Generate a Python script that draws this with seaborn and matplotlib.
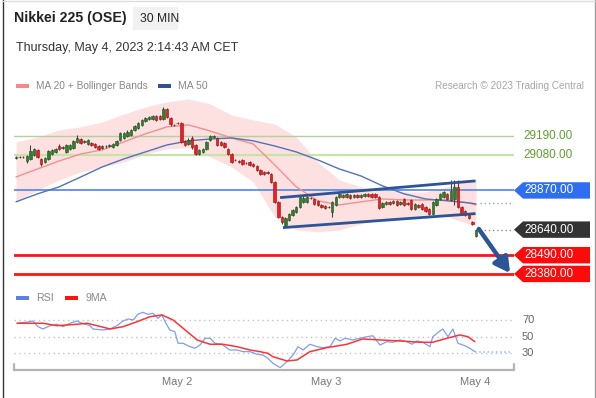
import numpy as np
import pandas as pd
import matplotlib
matplotlib.use("Agg")
import matplotlib.pyplot as plt
import seaborn as sns
from matplotlib.patches import Polygon, Rectangle
from matplotlib.lines import Line2D

# ---------------- data ----------------
opens = [29061, 29065, 29067, 29043, 29055, 29078, 29108, 29055, 29037, 29055,
         29084, 29096, 29131, 29120, 29096, 29114, 29120, 29155, 29172, 29155,
         29143, 29149, 29143, 29131, 29120, 29131, 29131, 29125, 29137, 29167,
         29178, 29190, 29196, 29225, 29237, 29255, 29278, 29290, 29290, 29307,
         29307, 29290, 29348, 29296, 29255, 29266, 29266, 29161, 29143, 29178,
         29137, 29084, 29096, 29114, 29167, 29184, 29178, 29155, 29149, 29114,
         29084, 29049, 29043, 29049, 29032, 29037, 29026, 29014, 28990, 28979,
         28979, 28967, 28920, 28803, 28715, 28668, 28697, 28726, 28744, 28773,
         28803, 28803, 28826, 28820, 28809, 28785, 28779, 28773, 28744, 28785,
         28832, 28844, 28832, 28844, 28832, 28844, 28832, 28838, 28850, 28850,
         28850, 28832, 28773, 28791, 28803, 28797, 28809, 28791, 28820, 28797,
         28814, 28762, 28785, 28791, 28773, 28762, 28732, 28785, 28820, 28832,
         28850, 28814, 28820, 28891, 28773, 28750, 28726, 28685, 28603]
closes = [29067, 29067, 29064, 29073, 29102, 29114, 29067, 29026, 29061, 29102,
          29108, 29114, 29114, 29125, 29137, 29137, 29161, 29178, 29149, 29161,
          29167, 29137, 29125, 29114, 29131, 29128, 29137, 29143, 29161, 29208,
          29208, 29213, 29225, 29249, 29266, 29284, 29296, 29302, 29307, 29284,
          29290, 29348, 29302, 29260, 29253, 29264, 29155, 29137, 29167, 29125,
          29084, 29108, 29114, 29155, 29190, 29190, 29137, 29137, 29125, 29084,
          29037, 29047, 29037, 29026, 29030, 29020, 29014, 28990, 28967, 28967,
          28973, 28920, 28803, 28715, 28685, 28709, 28732, 28756, 28773, 28832,
          28826, 28832, 28824, 28791, 28785, 28773, 28767, 28771, 28803, 28832,
          28850, 28832, 28850, 28826, 28844, 28832, 28844, 28850, 28838, 28832,
          28832, 28767, 28797, 28803, 28791, 28809, 28785, 28803, 28785, 28791,
          28762, 28791, 28773, 28762, 28750, 28732, 28803, 28820, 28850, 28861,
          28820, 28867, 28891, 28773, 28732, 28726, 28709, 28674, 28640]
highs = [29075, 29073, 29072, 29080, 29137, 29120, 29115, 29061, 29067, 29108,
         29114, 29120, 29140, 29131, 29143, 29145, 29167, 29196, 29180, 29167,
         29172, 29155, 29149, 29137, 29137, 29137, 29143, 29149, 29167, 29213,
         29215, 29225, 29232, 29255, 29272, 29290, 29302, 29307, 29313, 29313,
         29313, 29360, 29354, 29302, 29260, 29270, 29272, 29167, 29178, 29190,
         29143, 29114, 29120, 29161, 29196, 29196, 29184, 29161, 29155, 29120,
         29090, 29055, 29049, 29055, 29037, 29043, 29032, 29020, 28996, 28984,
         28984, 28973, 28926, 28809, 28720, 28715, 28738, 28762, 28779, 28838,
         28838, 28840, 28832, 28826, 28815, 28791, 28785, 28779, 28809, 28838,
         28856, 28850, 28856, 28850, 28850, 28850, 28850, 28856, 28856, 28856,
         28856, 28838, 28803, 28809, 28809, 28814, 28814, 28809, 28826, 28803,
         28820, 28797, 28791, 28797, 28779, 28767, 28809, 28826, 28856, 28867,
         28856, 28932, 28932, 28932, 28779, 28756, 28732, 28691, 28646]
lows = [29055, 29060, 29058, 29032, 29049, 29072, 29060, 29014, 29030, 29049,
        29078, 29090, 29108, 29114, 29090, 29108, 29114, 29149, 29143, 29149,
        29137, 29131, 29120, 29105, 29114, 29122, 29125, 29120, 29131, 29161,
        29172, 29184, 29190, 29219, 29231, 29249, 29272, 29284, 29284, 29278,
        29284, 29284, 29296, 29249, 29249, 29260, 29149, 29131, 29137, 29114,
        29078, 29078, 29090, 29108, 29161, 29178, 29131, 29131, 29120, 29078,
        29032, 29043, 29032, 29020, 29026, 29014, 29008, 28984, 28961, 28961,
        28967, 28914, 28797, 28709, 28674, 28656, 28691, 28720, 28738, 28767,
        28797, 28797, 28820, 28785, 28779, 28767, 28762, 28765, 28715, 28779,
        28826, 28826, 28826, 28820, 28826, 28826, 28826, 28832, 28832, 28826,
        28826, 28762, 28767, 28785, 28785, 28791, 28779, 28785, 28779, 28785,
        28756, 28756, 28767, 28756, 28744, 28726, 28726, 28779, 28814, 28826,
        28814, 28809, 28785, 28767, 28726, 28720, 28703, 28668, 28597]

# moving averages / Bollinger bands (sampled every 6 bars)
band_idx = [0, 6, 12, 18, 24, 30, 36, 42, 48, 54, 60, 66, 72, 78, 84, 90,
            96, 102, 108, 114, 120, 126, 128]
ma20 = [28949, 28996, 29043, 29084, 29108, 29155, 29202, 29243, 29255, 29219,
        29178, 29143, 29020, 28891, 28809, 28785, 28803, 28820, 28814, 28814,
        28814, 28797, 28785]
ma50 = [28803, 28850, 28891, 28949, 29008, 29055, 29096, 29137, 29161, 29172,
        29178, 29161, 29131, 29096, 29049, 28996, 28955, 28897, 28850, 28820,
        28809, 28797, 28791]
bb_upper = [29155, 29184, 29225, 29243, 29272, 29319, 29360, 29390, 29407, 29378,
            29313, 29284, 29260, 29184, 29037, 28932, 28891, 28873, 28861, 28861,
            28891, 28932, 28932]
bb_lower = [28803, 28873, 28932, 28979, 29008, 29037, 29084, 29114, 29120, 29067,
            29008, 28920, 28715, 28638, 28627, 28638, 28674, 28697, 28715, 28726,
            28715, 28674, 28662]

resistance_levels = [29190, 29080]
pivot_level = 28870
last_price = 28640
support_levels = [28490, 28380]

channel_upper_x = [73.5, 127.9]
channel_upper_y = [28828, 28926]
channel_lower_x = [74.3, 127.9]
channel_lower_y = [28652, 28734]
arrow_start = (128.8, 28644)
arrow_end = (137.5, 28385)

day_ticks = [44.8, 86.3, 127.7]
day_labels = ["May 2", "May 3", "May 4"]

rsi_idx = [0.3, 3.9, 4.7, 6.1, 7.5, 9.5, 11.4, 13.1, 15.0, 17.0, 18.4, 20.6, 21.4,
           24.2, 26.2, 28.1, 29.8, 31.2, 32.6, 33.9, 35.3, 36.7, 38.1, 39.5, 40.6,
           41.5, 42.8, 44.2, 45.1, 46.5, 48.4, 49.8, 51.2, 52.6, 54.0, 55.4, 57.3,
           59.5, 61.5, 63.2, 65.1, 67.1, 68.7, 70.1, 71.5, 73.5, 75.4, 77.1, 78.5,
           79.9, 81.8, 83.8, 85.4, 87.4, 88.8, 90.2, 91.5, 93.8, 95.7, 97.7, 99.3,
           101.3, 103.2, 104.9, 106.8, 108.8, 110.2, 111.6, 113.2, 115.2, 116.0,
           118.0, 118.8, 120.2, 121.6, 123.0, 124.9, 126.3, 127.7]
rsi_vals = [66.4, 68.3, 69.2, 62.3, 59.5, 63.5, 65.2, 62.3, 66.4, 69.2, 66.4, 63.5,
            59.5, 58.3, 59.5, 63.5, 69.2, 71.6, 70.4, 77.2, 79.6, 77.2, 78.4, 72.4,
            76.4, 68.3, 58.3, 56.3, 42.3, 42.3, 38.2, 36.3, 40.2, 48.3, 48.3, 42.3,
            41.1, 34.2, 34.2, 32.2, 32.2, 29.0, 28.2, 24.2, 18.2, 12.9, 20.1, 28.2,
            38.2, 34.2, 41.1, 38.2, 37.0, 38.2, 48.3, 45.1, 48.3, 46.3, 48.3, 50.2,
            51.4, 40.2, 44.2, 43.5, 46.3, 44.2, 41.1, 45.1, 43.5, 38.2, 50.2, 57.1,
            59.5, 50.2, 59.5, 42.3, 39.4, 36.3, 32.2]
ma9_idx = [0.3, 7.5, 11.4, 17.0, 19.8, 22.5, 26.2, 29.8, 33.7, 37.3, 40.6, 43.7,
           46.5, 50.4, 54.0, 57.6, 61.5, 65.1, 67.9, 70.1, 71.5, 75.4, 78.2, 81.8,
           86.5, 92.1, 96.5, 101.3, 106.8, 112.4, 116.0, 119.9, 123.5, 125.8, 127.7]
ma9_vals = [66.4, 66.4, 63.5, 65.2, 66.4, 63.5, 59.5, 62.3, 68.3, 74.3, 76.4, 70.4,
            60.4, 46.3, 41.1, 41.1, 38.2, 34.2, 32.2, 30.2, 26.1, 21.0, 22.2, 32.2,
            37.0, 41.1, 47.5, 46.3, 45.1, 43.5, 43.5, 48.3, 52.3, 50.2, 44.2]
rsi_guides = [70, 50, 30]

# ---------------- style ----------------
sns.set_theme(style="white")
plt.rcParams["font.family"] = ["Liberation Sans", "DejaVu Sans"]

W, H = 596, 398
fig = plt.figure(figsize=(W / 100, H / 100), dpi=100)
fig.patch.set_facecolor("white")


def fx(x):
    return x / W


def fy(y):
    return 1 - y / H


XLIM = (-0.56, 138.6)

# ---------------- main price panel ----------------
ax = fig.add_axes([fx(14), fy(292), 500 / W, 198 / H])
ax.set_xlim(*XLIM)
ax.set_ylim(28274, 29436)
ax.axis("off")

ax.fill_between(band_idx, bb_lower, bb_upper, color="#fde1e1", lw=0, zorder=1)

ax.axhline(resistance_levels[0], color="#b7cfa0", lw=1.0, zorder=2)
ax.axhline(resistance_levels[1], color="#c6e4a6", lw=1.6, zorder=2)
ax.axhline(pivot_level, color="#5a8cf0", lw=1.3, zorder=2)
for lv in support_levels:
    ax.axhline(lv, color="#ff1414", lw=2.0, zorder=2)

sns.lineplot(x=band_idx, y=ma20, ax=ax, color="#f29090", lw=1.0, zorder=3)
sns.lineplot(x=band_idx, y=ma50, ax=ax, color="#5273b5", lw=1.0, zorder=3)

n = len(closes)
idx = np.arange(n)
o = np.array(opens, float)
c = np.array(closes, float)
hi = np.array(highs, float)
lo = np.array(lows, float)
up = c >= o
ax.vlines(idx, lo, hi, color="#444444", lw=0.8, zorder=4)
body_bottom = np.minimum(o, c)
body_h = np.maximum(np.abs(c - o), 3)
ax.bar(idx[up], body_h[up], bottom=body_bottom[up], width=0.68,
       color="#2f7d2f", edgecolor="#1f4f1f", lw=0.4, zorder=5)
ax.bar(idx[~up], body_h[~up], bottom=body_bottom[~up], width=0.68,
       color="#ee1c1c", edgecolor="#9a1010", lw=0.4, zorder=5)

ax.plot(channel_upper_x, channel_upper_y, color="#2c5597", lw=2.0, zorder=6,
        solid_capstyle="butt")
ax.plot(channel_lower_x, channel_lower_y, color="#2c5597", lw=2.0, zorder=6,
        solid_capstyle="butt")

# dotted extensions to the price scale
ax.hlines(last_price, n, XLIM[1], color="#888888", lw=1.0, ls=(0, (1, 2)), zorder=3)
ax.hlines(ma50[-1] + 6, n, XLIM[1], color="#9aa6bb", lw=1.0, ls=(0, (1, 2)), zorder=3)

ax.annotate("", xy=arrow_end, xytext=arrow_start,
            arrowprops=dict(arrowstyle="-|>,head_width=0.5,head_length=0.9",
                            color="#2c5597", lw=3.2, shrinkA=0, shrinkB=0,
                            mutation_scale=10),
            annotation_clip=False, zorder=7)

yr = ax.get_ylim()
px_per_unit = 198 / (yr[1] - yr[0])
hh = 8.2 / px_per_unit
trans = ax.get_yaxis_transform()


def tag(price, color, text):
    x0 = 1.0
    x1 = 1.0 + 9 / 500
    x2 = 1.0 + 76 / 500
    poly = Polygon([(x0, price), (x1, price + hh), (x2, price + hh),
                    (x2, price - hh), (x1, price - hh)], closed=True,
                   transform=trans, facecolor=color, edgecolor="none",
                   clip_on=False, zorder=8)
    ax.add_patch(poly)
    ax.text(1.0 + 10 / 500, price, text, transform=trans, color="white",
            fontsize=8.5, va="center", ha="left", clip_on=False, zorder=9)


for lv in resistance_levels:
    ax.text(1.0 + 9 / 500, lv, f"{lv:.2f}", transform=trans, color="#5fa030",
            fontsize=8.5, va="center", ha="left", clip_on=False)
tag(pivot_level, "#2e6ff2", f"{pivot_level:.2f}")
tag(last_price, "#333333", f"{last_price:.2f}")
for lv in support_levels:
    tag(lv, "#ff0a0a", f"{lv:.2f}")

# ---------------- RSI panel ----------------
ax2 = fig.add_axes([fx(14), fy(370), 500 / W, 65 / H])
ax2.set_xlim(*XLIM)
ax2.set_ylim(10.1, 88.4)
for s in ["left", "right", "top"]:
    ax2.spines[s].set_visible(False)
ax2.spines["bottom"].set_color("#b3b3b3")
ax2.spines["bottom"].set_linewidth(1.6)
ax2.set_yticks([])
for v in rsi_guides:
    ax2.axhline(v, color="#c2c2c2", lw=1.0, ls=(0, (1, 2.5)), zorder=1)
    ax2.text(1.0 + 8 / 500, v, str(v), transform=ax2.get_yaxis_transform(),
             color="#666666", fontsize=8, va="center", ha="left", clip_on=False)

sns.lineplot(x=rsi_idx, y=rsi_vals, ax=ax2, color="#7f9ef0", lw=0.9, zorder=3)
sns.lineplot(x=ma9_idx, y=ma9_vals, ax=ax2, color="#ff3333", lw=1.1, zorder=4)
ax2.plot([rsi_idx[-1], XLIM[1] - 0.5], [rsi_vals[-1], rsi_vals[-1]],
         color="#afc0f3", lw=1.2, ls=(0, (1, 1.5)), zorder=2)
ax2.set_xlabel("")
ax2.set_ylabel("")
ax2.set_xticks(day_ticks)
ax2.set_xticklabels(day_labels)
ax2.tick_params(axis="x", length=0, pad=5, labelcolor="#777777", labelsize=8)
for xe in (0, 1):
    ax2.plot([xe, xe], [0, 0.09], transform=ax2.transAxes, color="#b3b3b3",
             lw=1.6, clip_on=False)

# ---------------- header / legends ----------------
fig.text(fx(14), fy(18), "Nikkei 225 (OSE)", fontsize=10.2, fontweight="bold",
         color="#222222", va="center", ha="left")
fig.patches.append(Rectangle((fx(133), fy(30)), 45 / W, 23 / H,
                             transform=fig.transFigure, facecolor="#f1f1f1",
                             edgecolor="none"))
fig.text(fx(139.5), fy(18.5), "30 MIN", fontsize=8.7, color="#222222",
         va="center", ha="left")
fig.text(fx(16), fy(48), "Thursday, May 4, 2023 2:14:43 AM CET", fontsize=9,
         color="#333333", va="center", ha="left")

fig.patches.append(Rectangle((fx(16), fy(88)), 13 / W, 4 / H,
                             transform=fig.transFigure, facecolor="#ff8585",
                             edgecolor="none"))
fig.text(fx(36), fy(86), "MA 20 + Bollinger Bands", fontsize=7.3,
         color="#888888", va="center", ha="left")
fig.patches.append(Rectangle((fx(158), fy(88)), 13 / W, 4 / H,
                             transform=fig.transFigure, facecolor="#2c5597",
                             edgecolor="none"))
fig.text(fx(178), fy(86), "MA 50", fontsize=7.6, color="#888888",
         va="center", ha="left")
fig.text(fx(584), fy(86), "Research \u00a9 2023 Trading Central", fontsize=7.2,
         color="#a6a6a6", va="center", ha="right")

fig.patches.append(Rectangle((fx(16), fy(300)), 13 / W, 4 / H,
                             transform=fig.transFigure, facecolor="#5d80e6",
                             edgecolor="none"))
fig.text(fx(36), fy(298), "RSI", fontsize=7.6, color="#888888",
         va="center", ha="left")
fig.patches.append(Rectangle((fx(65), fy(300)), 13 / W, 4 / H,
                             transform=fig.transFigure, facecolor="#ff1414",
                             edgecolor="none"))
fig.text(fx(85), fy(298), "9MA", fontsize=7.6, color="#888888",
         va="center", ha="left")

# frame
fig.add_artist(Line2D([fx(2.5), fx(2.5)], [0, 1], color="#333333", lw=1.0))
fig.add_artist(Line2D([fx(594.5), fx(594.5)], [0, 1], color="#9a9a9a", lw=1.0))
fig.add_artist(Line2D([fx(2.5), fx(594.5)], [fy(0.5), fy(0.5)],
                      color="#dddddd", lw=1.0))

fig.savefig("out.png", dpi=100)
